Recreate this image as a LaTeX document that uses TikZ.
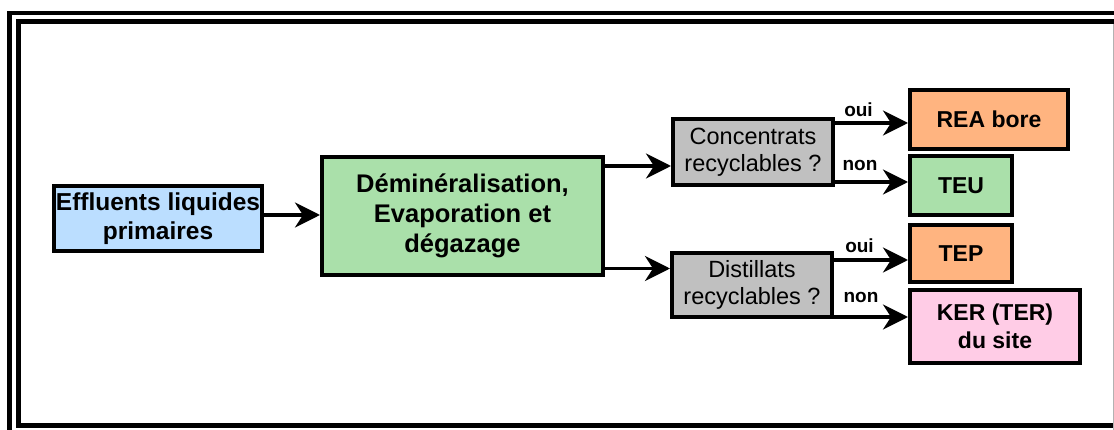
\documentclass[tikz,border=0pt]{standalone}
\usepackage{fontspec}
\setmainfont{Liberation Sans}
\usetikzlibrary{arrows.meta}
\definecolor{cblue}{RGB}{187,222,255}
\definecolor{cgreen}{RGB}{170,224,170}
\definecolor{corange}{RGB}{255,180,128}
\definecolor{cpink}{RGB}{255,204,230}
\definecolor{cgray}{RGB}{192,192,192}
\begin{document}
\begin{tikzpicture}[x=1pt,y=-1pt,
  box/.style={draw=black, line width=4pt, inner sep=0pt, align=center},
  boldtxt/.style={font=\bfseries\fontsize{23}{28}\selectfont},
  regtxt/.style={font=\fontsize{23.5}{27}\selectfont},
  lbl/.style={font=\bfseries\fontsize{19}{22}\selectfont, inner sep=0pt},
  arr/.style={line width=3.5pt, -{Stealth[length=25pt,width=25pt,inset=8pt]}},
  frameline/.style={line width=4.5pt, draw=black}
]
\useasboundingbox (0,0) rectangle (1114,430);
\clip (0,0) rectangle (1114,430);
\fill[white] (0,0) rectangle (1114,430);
% frame
\draw[frameline] (9.5,13) rectangle (1140,450);
\draw[frameline] (18.5,21.5) rectangle (1125,425.5);
\draw[gray!60, line width=1pt] (1113,24) -- (1113,430);

% nodes
\node[box, fill=cblue, minimum width=208pt, minimum height=65pt,
      font=\bfseries\fontsize{24.5}{29}\selectfont] (eff) at (158,218.5)
  {Effluents liquides\\primaires};
\node[box, fill=cgreen, minimum width=281pt, minimum height=118pt,
      font=\bfseries\fontsize{25.5}{30}\selectfont] (dem) at (462.5,216)
  {Déminéralisation,\\Evaporation et\\dégazage};
\node[box, fill=cgray, regtxt, minimum width=160pt, minimum height=66pt] (conc) at (753,152)
  {Concentrats\\recyclables ?};
\node[box, fill=cgray, regtxt, minimum width=160pt, minimum height=64pt] (dist) at (752,285)
  {Distillats\\recyclables ?};
\node[box, fill=corange, boldtxt, minimum width=158pt, minimum height=59pt] (rea) at (989,119.5)
  {REA bore};
\node[box, fill=cgreen, boldtxt, minimum width=102pt, minimum height=59pt] (teu) at (961,185.5)
  {TEU};
\node[box, fill=corange, boldtxt, minimum width=102pt, minimum height=57pt] (tep) at (961,253.5)
  {TEP};
\node[box, fill=cpink, boldtxt, minimum width=170pt, minimum height=73pt] (ker) at (995,326.5)
  {KER (TER)\\du site};

% connectors
\draw[arr] (eff.east |- 0,215) -- (dem.west |- 0,215);
\draw[arr] (dem.east |- 0,166) -- (conc.west |- 0,166);
\draw[arr] (dem.east |- 0,268.5) -- (dist.west |- 0,268.5);
\draw[arr] (conc.east |- 0,123) -- (rea.west |- 0,123);
\draw[arr] (conc.east |- 0,182) -- (teu.west |- 0,182);
\draw[arr] (dist.east |- 0,260) -- (tep.west |- 0,260);
\draw[arr] (dist.east |- 0,317) -- (ker.west |- 0,317);

% labels
\node[lbl] (l1) at (858.5,110) {oui};
\node[lbl] (l2) at (860,165) {non};
\node[lbl] (l3) at (859.5,246) {oui};
\node[lbl] (l4) at (861,297) {non};
\end{tikzpicture}
\end{document}
